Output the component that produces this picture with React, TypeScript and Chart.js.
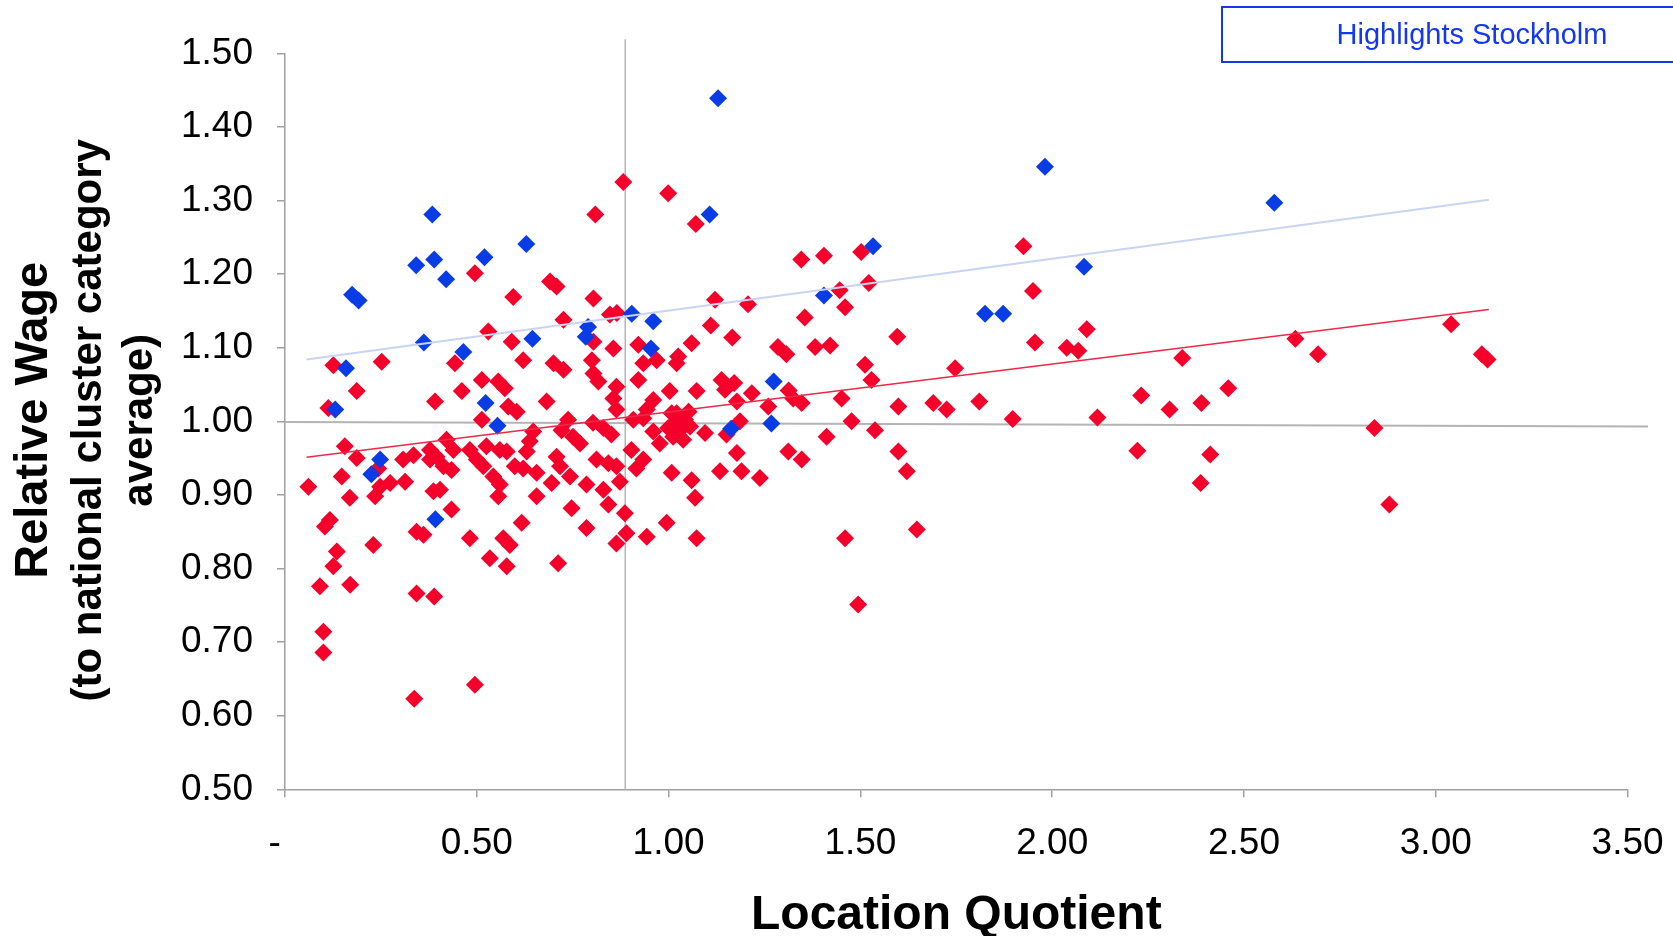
import React, { useEffect, useRef } from "react";
import { Chart, registerables } from "chart.js";

Chart.register(...registerables);

// ---------- data ----------
const highlightLabel = "Highlights Stockholm";
const xTitle = "Location Quotient";
const yTitleMain = "Relative Wage";
const yTitleSub1 = "(to national cluster category";
const yTitleSub2 = "average)";

const xTickStep = 0.5;
const yTickStep = 0.1;
const xRange = [0, 3.5];
const yRange = [0.5, 1.5];

// Stockholm clusters (blue)
const stockholmPoints: [number, number][] = [
  [1.129, 1.439], [1.981, 1.346], [2.579, 1.297], [0.384, 1.281], [1.107, 1.281], [0.629, 1.241],
  [1.533, 1.238], [0.52, 1.223], [0.389, 1.22], [0.342, 1.212], [2.083, 1.21], [0.42, 1.193],
  [0.175, 1.172], [0.192, 1.164], [1.405, 1.171], [1.825, 1.146], [1.872, 1.146], [0.904, 1.146],
  [0.96, 1.136], [0.79, 1.128], [0.784, 1.115], [0.645, 1.112], [0.362, 1.107], [0.954, 1.099],
  [0.465, 1.094], [0.159, 1.072], [1.274, 1.054], [0.523, 1.025], [0.131, 1.016], [1.268, 0.997],
  [1.163, 0.99], [0.554, 0.994], [0.248, 0.948], [0.225, 0.928], [0.392, 0.867],
];

// Other regions' clusters (red)
const otherPoints: [number, number][] = [
  [0.187, 1.041], [0.113, 1.018], [0.391, 1.027], [0.461, 1.041], [0.513, 1.056], [0.513, 1.002],
  [0.156, 0.966], [0.187, 0.95], [0.243, 0.936], [0.308, 0.948], [0.335, 0.954], [0.378, 0.961],
  [0.421, 0.975], [0.439, 0.961], [0.378, 0.948], [0.413, 0.939], [0.434, 0.934], [0.395, 0.952],
  [0.482, 0.961], [0.5, 0.948], [0.148, 0.925], [0.061, 0.911], [0.169, 0.896], [0.248, 0.911],
  [0.274, 0.916], [0.235, 0.898], [0.313, 0.918], [0.387, 0.905], [0.404, 0.907], [0.434, 0.88],
  [0.117, 0.866], [0.104, 0.857], [0.343, 0.85], [0.361, 0.846], [0.482, 0.841], [0.23, 0.832],
  [0.135, 0.823], [0.126, 0.803],
  [0.556, 1.054], [0.573, 1.045], [0.682, 1.027], [0.582, 1.02], [0.604, 1.013], [0.738, 1.002],
  [0.721, 0.988], [0.647, 0.986], [0.638, 0.973], [0.63, 0.959], [0.803, 0.998], [0.83, 0.991],
  [0.851, 0.982], [0.864, 1.047], [0.856, 1.031], [0.864, 1.016], [0.921, 1.056], [0.96, 1.029],
  [0.943, 1.016], [0.934, 1.004], [1.003, 1.041], [1.008, 1.011], [0.999, 0.991], [0.908, 1.002],
  [0.96, 0.986], [0.977, 0.97], [0.769, 0.97], [0.751, 0.979], [0.708, 0.952], [0.717, 0.939],
  [0.743, 0.925], [0.812, 0.948], [0.843, 0.943], [0.864, 0.939], [0.903, 0.961], [0.934, 0.948],
  [0.916, 0.936], [1.008, 0.93], [0.525, 0.966], [0.56, 0.961], [0.578, 0.959], [0.517, 0.939],
  [0.543, 0.925], [0.56, 0.914], [0.599, 0.939], [0.621, 0.936], [0.656, 0.93], [0.695, 0.916],
  [0.786, 0.914], [0.656, 0.898], [0.556, 0.898], [0.83, 0.907], [0.843, 0.887], [0.873, 0.918],
  [0.747, 0.882], [0.886, 0.875], [0.617, 0.862], [0.786, 0.855], [0.89, 0.848], [0.864, 0.834],
  [0.943, 0.843], [0.995, 0.862], [0.569, 0.841], [0.586, 0.832], [0.534, 0.814], [0.578, 0.803],
  [0.712, 0.807],
  [1.021, 1.011], [1.043, 1.002], [1.03, 0.988], [1.056, 0.993], [1.012, 0.979], [1.038, 0.975],
  [1.052, 1.013], [1.017, 0.998], [1.138, 1.056], [1.147, 1.043], [1.073, 1.041], [1.178, 1.027],
  [1.217, 1.038], [1.26, 1.02], [1.325, 1.031], [1.347, 1.025], [1.451, 1.031], [1.186, 1.0],
  [1.151, 0.982], [1.095, 0.984], [1.412, 0.979], [1.477, 1.0], [1.312, 0.959], [1.347, 0.948],
  [1.178, 0.957], [1.134, 0.932], [1.19, 0.932], [1.238, 0.923], [1.06, 0.92], [1.069, 0.896],
  [1.073, 0.841], [1.46, 0.841], [1.313, 1.042], [1.171, 1.052],
  [1.596, 1.115], [1.512, 1.077], [1.529, 1.056], [1.747, 1.072], [1.599, 1.02], [1.69, 1.025],
  [1.725, 1.016], [1.81, 1.027], [1.538, 0.988], [1.897, 1.003], [1.599, 0.959], [1.621, 0.932],
  [1.647, 0.853], [1.955, 1.107], [2.038, 1.1], [2.068, 1.096], [2.09, 1.125], [2.118, 1.005],
  [2.232, 1.035], [2.222, 0.96],
  [0.495, 1.201], [0.691, 1.19], [0.708, 1.183], [0.595, 1.169], [0.804, 1.167], [1.121, 1.165],
  [0.53, 1.122], [0.591, 1.108], [0.726, 1.138], [0.847, 1.145], [0.865, 1.147], [0.804, 1.108],
  [0.252, 1.081], [0.126, 1.076], [0.443, 1.079], [0.621, 1.083], [0.7, 1.079], [0.726, 1.07],
  [0.856, 1.099], [0.8, 1.083], [0.804, 1.065], [0.817, 1.054], [0.921, 1.104], [0.934, 1.079],
  [0.969, 1.083], [1.021, 1.079], [1.025, 1.088], [1.06, 1.106], [1.11, 1.13], [1.166, 1.114],
  [0.091, 0.776], [0.17, 0.778], [0.343, 0.766], [0.389, 0.762], [0.1, 0.714], [0.1, 0.686],
  [0.495, 0.642], [0.337, 0.623], [1.494, 0.751],
  [3.04, 1.132], [3.12, 1.091], [3.135, 1.084], [2.634, 1.112], [2.693, 1.091], [2.339, 1.086],
  [2.459, 1.045], [2.306, 1.016], [2.389, 1.025], [2.84, 0.991], [2.412, 0.955], [2.387, 0.916],
  [2.879, 0.887], [1.95, 1.177], [1.925, 1.238], [1.522, 1.188], [1.502, 1.23], [1.46, 1.155],
  [1.446, 1.178], [1.405, 1.225], [1.346, 1.22], [1.355, 1.141], [1.382, 1.101], [1.421, 1.103],
  [1.285, 1.101], [1.307, 1.091], [1.207, 1.159], [1.071, 1.268], [0.999, 1.31], [0.882, 1.325],
  [0.809, 1.281],
];

// Trend lines and reference lines (end points)
const stockholmTrend: [number, number][] = [[0.056, 1.084], [3.138, 1.301]];
const otherTrend: [number, number][] = [[0.056, 0.951], [3.138, 1.152]];
const avgWageLine: [number, number][] = [[0, 0.999], [3.553, 0.993]];
const avgLQLine: [number, number][] = [[0.887, 0.5], [0.887, 1.519]];

// ---------- styles ----------
const FONT = "'Liberation Sans', Arial, Helvetica, sans-serif";
const RED = "#F5002A";
const BLUE = "#0A3CE6";
const TEXT_BLUE = "#1437F0";
const AXIS_GREY = "#A0A0A0";

const W = 1673;
const H = 936;
const AREA_LEFT = 285;
const AREA_RIGHT = 1627.6;
const AREA_TOP = 53.3;
const AREA_BOTTOM = 789.3;

const toXY = (arr: [number, number][]) => arr.map(([x, y]) => ({ x, y }));

const annotationsPlugin = {
  id: "customText",
  afterDraw(chart: any) {
    const ctx = chart.ctx as CanvasRenderingContext2D;
    const area = chart.chartArea;
    const cy = (area.top + area.bottom) / 2 - 1;
    ctx.save();
    ctx.fillStyle = "#000";
    ctx.textAlign = "center";
    ctx.textBaseline = "middle";
    const drawRot = (text: string, x: number, font: string) => {
      ctx.save();
      ctx.translate(x, cy);
      ctx.rotate(-Math.PI / 2);
      ctx.font = font;
      ctx.fillText(text, 0, 0);
      ctx.restore();
    };
    drawRot(yTitleMain, 34, `bold 47px ${FONT}`);
    drawRot(yTitleSub1, 89, `bold 42px ${FONT}`);
    drawRot(yTitleSub2, 140, `bold 42px ${FONT}`);
    ctx.font = `bold 48px ${FONT}`;
    ctx.textBaseline = "alphabetic";
    ctx.fillText(xTitle, (area.left + area.right) / 2, 929);
    ctx.strokeStyle = TEXT_BLUE;
    ctx.lineWidth = 2;
    ctx.strokeRect(1222, 7, 470, 55);
    ctx.fillStyle = TEXT_BLUE;
    ctx.font = `29px ${FONT}`;
    ctx.textBaseline = "middle";
    ctx.fillText(highlightLabel, 1472, 36);
    ctx.restore();
  },
};

export default function App() {
  const canvasRef = useRef<HTMLCanvasElement | null>(null);

  useEffect(() => {
    document.body.style.margin = "0";
    document.body.style.overflow = "hidden";
    const canvas = canvasRef.current;
    if (!canvas) return;

    const lineDs = (label: string, pts: [number, number][], color: string, width: number, order: number) => ({
      label,
      data: toXY(pts),
      showLine: true,
      borderColor: color,
      backgroundColor: color,
      borderWidth: width,
      pointRadius: 0,
      pointHoverRadius: 0,
      order,
      clip: false as any,
    });

    const chart = new Chart(canvas, {
      type: "scatter",
      data: {
        datasets: [
          lineDs("Stockholm trend", stockholmTrend, "#C9D3F4", 2, 0),
          lineDs("Other trend", otherTrend, "#EC2A48", 1.5, 1),
          {
            label: "Stockholm",
            data: toXY(stockholmPoints),
            pointStyle: "rectRot",
            pointRadius: 9,
            pointHoverRadius: 9,
            backgroundColor: BLUE,
            borderWidth: 0,
            order: 2,
          },
          {
            label: "Other",
            data: toXY(otherPoints),
            pointStyle: "rectRot",
            pointRadius: 9,
            pointHoverRadius: 9,
            backgroundColor: RED,
            borderWidth: 0,
            order: 3,
          },
          lineDs("Average wage", avgWageLine, "#B4B4B4", 2, 4),
          lineDs("Average LQ", avgLQLine, "#B4B4B4", 1.5, 5),
        ] as any,
      },
      options: {
        responsive: false,
        animation: false,
        devicePixelRatio: 1,
        events: [],
        layout: {
          padding: { top: AREA_TOP, right: 0, left: 0, bottom: 0 },
        },
        plugins: {
          legend: { display: false },
          tooltip: { enabled: false },
          title: { display: false },
        },
        scales: {
          x: {
            type: "linear",
            min: xRange[0],
            max: xRange[1],
            afterFit: (s: any) => {
              s.height = H - AREA_BOTTOM;
              s.paddingRight = W - AREA_RIGHT;
              s.paddingLeft = 0;
            },
            ticks: {
              stepSize: xTickStep,
              autoSkip: false,
              maxRotation: 0,
              padding: 24,
              color: "#000",
              font: { family: FONT, size: 37 },
              callback: (v: any) => (Number(v) === 0 ? "-\u00a0\u00a0" : Number(v).toFixed(2)),
            },
            grid: { drawOnChartArea: false, drawTicks: true, tickLength: 8, color: AXIS_GREY, lineWidth: 1.5 },
            border: { display: true, color: AXIS_GREY, width: 1.5 },
          },
          y: {
            type: "linear",
            min: yRange[0],
            max: yRange[1],
            afterFit: (s: any) => {
              s.width = AREA_LEFT;
            },
            ticks: {
              stepSize: yTickStep,
              autoSkip: false,
              padding: 24,
              color: "#000",
              font: { family: FONT, size: 37 },
              callback: (v: any) => Number(v).toFixed(2),
            },
            grid: { drawOnChartArea: false, drawTicks: true, tickLength: 8, color: AXIS_GREY, lineWidth: 1.5 },
            border: { display: true, color: AXIS_GREY, width: 1.5 },
          },
        },
      } as any,
      plugins: [annotationsPlugin],
    });

    return () => chart.destroy();
  }, []);

  return (
    <div style={{ position: "fixed", left: 0, top: 0, width: W, height: H, background: "#fff" }}>
      <canvas ref={canvasRef} width={W} height={H} style={{ display: "block", width: W, height: H }} />
    </div>
  );
}
